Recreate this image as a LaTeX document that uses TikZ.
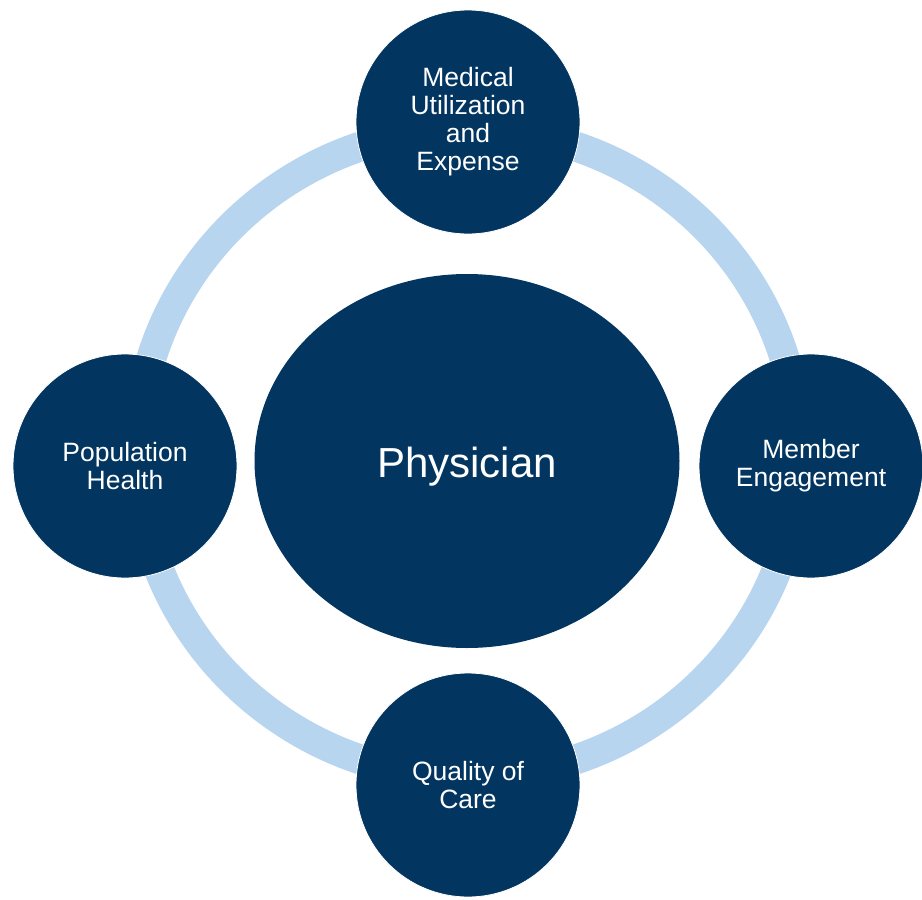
\documentclass[tikz,border=0pt]{standalone}
\usepackage{fontspec}
\setmainfont{Liberation Sans}
\usetikzlibrary{shapes.geometric}

\definecolor{navy}{RGB}{2,54,96}
\definecolor{ringblue}{RGB}{184,213,239}

\tikzset{
  topic/.style={circle, fill=navy, draw=white, line width=0.8pt, minimum size=224pt,
    inner sep=0pt, text=white, align=center, font=\fontsize{26.5}{28}\selectfont},
  hub/.style={ellipse, fill=navy, minimum width=425pt, minimum height=374pt,
    inner sep=0pt, text=white, font=\fontsize{42}{48}\selectfont}
}

\begin{document}
\begin{tikzpicture}[x=1pt,y=-1pt]
\useasboundingbox (0,0) rectangle (922,900);

% ring behind the topics
\draw[ringblue, line width=30pt] (468,453) ellipse [x radius=331, y radius=324];

\node[hub, text height=38pt, text depth=6pt] (phys) at (467,461) {Physician};

\node[topic] (med) at (468,122) {Medical\\Utilization\\and\\Expense};
\node[topic] (pop) at (125,466) {Population\\Health};
\node[topic] (mem) at (811,466) {Member\\Engagement};
\node[topic] (qual) at (468,785) {Quality of\\Care};
\end{tikzpicture}
\end{document}
